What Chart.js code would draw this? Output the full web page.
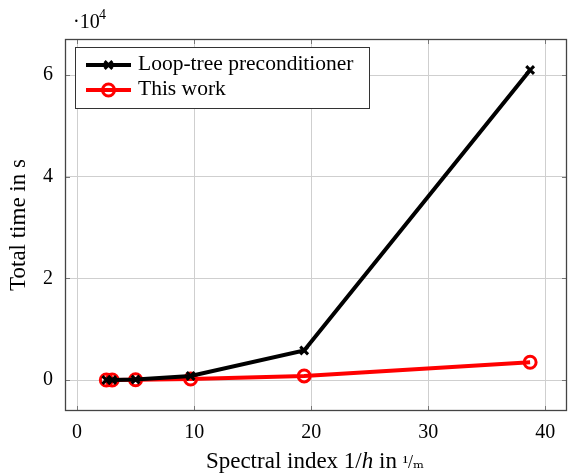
<!DOCTYPE html>
<html>
<head>
<meta charset="utf-8">
<script src="https://cdn.jsdelivr.net/npm/chart.js@4"></script>
<style>
  html, body { margin: 0; padding: 0; background: #fff; }
  #wrap { width: 568px; height: 476px; }
</style>
</head>
<body>
<div id="wrap"><canvas id="chart"></canvas></div>
<script>
// spectral index 1/h (1/m)
const spectralIndex = [2.5, 3.0, 5.0, 9.7, 19.4, 38.7];
// total time in s
const loopTreeTime = [0, 0, 100, 800, 5800, 61000];
const thisWorkTime = [0, 0, 50, 200, 800, 3500];
const xTicks = [0, 10, 20, 30, 40];
const yTicks = [0, 20000, 40000, 60000];

const FONT = '"Liberation Serif", "DejaVu Serif", serif';

const toPoints = (xs, ys) => xs.map((x, i) => ({ x: x, y: ys[i] }));

// frame, inner tick marks, legend box, exponent and x title
const decorations = {
    id: 'decorations',
    afterDraw(chart) {
        const ctx = chart.ctx;
        const a = chart.chartArea;
        const xs = chart.scales.x;
        const ys = chart.scales.y;
        ctx.save();

        // tick marks (inside, both sides)
        ctx.strokeStyle = '#777';
        ctx.lineWidth = 1;
        xTicks.forEach(v => {
            const px = Math.round(xs.getPixelForValue(v)) + 0.5;
            ctx.beginPath();
            ctx.moveTo(px, a.bottom); ctx.lineTo(px, a.bottom - 5);
            ctx.moveTo(px, a.top); ctx.lineTo(px, a.top + 5);
            ctx.stroke();
        });
        yTicks.forEach(v => {
            const py = Math.round(ys.getPixelForValue(v)) + 0.5;
            ctx.beginPath();
            ctx.moveTo(a.left, py); ctx.lineTo(a.left + 5, py);
            ctx.moveTo(a.right, py); ctx.lineTo(a.right - 5, py);
            ctx.stroke();
        });

        // frame
        ctx.strokeStyle = '#444';
        ctx.lineWidth = 1.3;
        ctx.strokeRect(a.left + 0.5, a.top + 0.5, a.right - a.left - 1, a.bottom - a.top - 1);

        // legend
        const lx = 75.5, ly = 47.5, lw = 294, lh = 61;
        ctx.fillStyle = '#fff';
        ctx.fillRect(lx, ly, lw, lh);
        ctx.strokeStyle = '#333';
        ctx.lineWidth = 1;
        ctx.strokeRect(lx, ly, lw, lh);
        chart.data.datasets.forEach((ds, i) => {
            const cy = 65 + i * 25;
            ctx.strokeStyle = ds.borderColor;
            ctx.lineWidth = ds.borderWidth;
            ctx.beginPath();
            ctx.moveTo(86, cy); ctx.lineTo(131, cy);
            ctx.stroke();
            ctx.fillStyle = ds.pointBackgroundColor;
            ctx.strokeStyle = ds.pointBorderColor;
            ctx.lineWidth = ds.pointBorderWidth;
            Chart.helpers.drawPoint(ctx, {
                pointStyle: ds.pointStyle,
                radius: ds.pointRadius,
                borderWidth: ds.pointBorderWidth
            }, 108.5, cy);
            ctx.fillStyle = '#000';
            ctx.font = '21.5px ' + FONT;
            ctx.textBaseline = 'middle';
            ctx.textAlign = 'left';
            ctx.fillText(ds.label, 138, cy - 1);
        });

        // exponent label
        ctx.fillStyle = '#000';
        ctx.textBaseline = 'alphabetic';
        ctx.font = '20px ' + FONT;
        ctx.fillText('\u00b710', 73, 28);
        ctx.font = '14px ' + FONT;
        ctx.fillText('4', 99, 19);

        // x axis title with italic h
        const parts = [
            ['Spectral index 1/', '23px ' + FONT],
            ['h', 'italic 23px ' + FONT],
            [' in ', '23px ' + FONT],
            ['\u00b9/\u2098', '18px ' + FONT]
        ];
        let total = 0;
        parts.forEach(p => { ctx.font = p[1]; total += ctx.measureText(p[0]).width; });
        let x = 315 - total / 2;
        parts.forEach(p => {
            ctx.font = p[1];
            ctx.fillText(p[0], x, 468);
            x += ctx.measureText(p[0]).width;
        });
        ctx.restore();
    }
};

new Chart(document.getElementById('chart'), {
    type: 'scatter',
    data: {
        datasets: [{
            label: 'Loop-tree preconditioner',
            data: toPoints(spectralIndex, loopTreeTime),
            showLine: true,
            borderColor: '#000',
            backgroundColor: '#000',
            borderWidth: 4,
            pointStyle: 'crossRot',
            pointRadius: 5.5,
            pointBorderWidth: 3,
            pointBorderColor: '#000',
            pointBackgroundColor: '#000'
        }, {
            label: 'This work',
            data: toPoints(spectralIndex, thisWorkTime),
            showLine: true,
            borderColor: '#ff0000',
            backgroundColor: 'rgba(0,0,0,0)',
            borderWidth: 4,
            pointStyle: 'circle',
            pointRadius: 6,
            pointBorderWidth: 3,
            pointBorderColor: '#ff0000',
            pointBackgroundColor: 'rgba(0,0,0,0)'
        }]
    },
    options: {
        responsive: true,
        maintainAspectRatio: false,
        animation: false,
        layout: { autoPadding: false, padding: { top: 39, right: 1, left: 0, bottom: 0 } },
        plugins: {
            legend: { display: false },
            tooltip: { enabled: false }
        },
        scales: {
            x: {
                type: 'linear',
                min: -1.03,
                max: 41.85,
                afterBuildTicks: s => { s.ticks = xTicks.map(v => ({ value: v })); },
                afterFit: s => { s.height = 65; s.paddingLeft = 0; s.paddingRight = 0; },
                grid: { color: '#cfcfcf', lineWidth: 1, drawTicks: false },
                border: { display: false },
                ticks: {
                    color: '#000',
                    padding: 10,
                    font: { family: FONT, size: 20 },
                    maxRotation: 0
                }
            },
            y: {
                type: 'linear',
                min: -6100,
                max: 67100,
                afterBuildTicks: s => { s.ticks = yTicks.map(v => ({ value: v })); },
                afterFit: s => { s.width = 65; s.paddingTop = 0; s.paddingBottom = 0; },
                grid: { color: '#cfcfcf', lineWidth: 1, drawTicks: false },
                border: { display: false },
                title: {
                    display: true,
                    text: 'Total time in s',
                    color: '#000',
                    font: { family: FONT, size: 23 },
                    padding: { top: 5, bottom: 0 }
                },
                ticks: {
                    color: '#000',
                    padding: 12,
                    font: { family: FONT, size: 20 },
                    callback: v => String(v / 10000)
                }
            }
        }
    },
    plugins: [decorations]
});
</script>
</body>
</html>
